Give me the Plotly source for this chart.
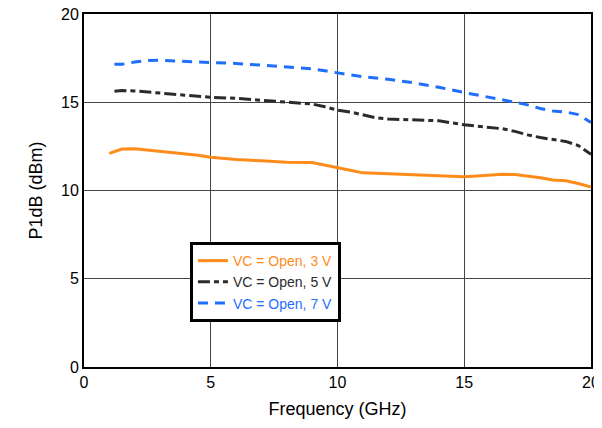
import plotly.graph_objects as go

x_3v = [1.0, 1.5, 2.0, 2.5, 3, 3.5, 4, 4.5, 5, 6, 7, 8, 9, 9.5, 10, 10.5, 11, 11.5, 12, 13, 14, 15, 15.5, 16, 16.5, 17, 17.5, 18, 18.5, 19, 19.5, 20]
y_3v = [12.1, 12.35, 12.37, 12.3, 12.25, 12.18, 12.1, 12.0, 11.88, 11.75, 11.68, 11.6, 11.58, 11.45, 11.32, 11.15, 11.0, 10.97, 10.95, 10.88, 10.85, 10.78, 10.82, 10.88, 10.92, 10.9, 10.82, 10.72, 10.6, 10.55, 10.4, 10.2]

x_5v = [1.2, 1.5, 2, 2.5, 3, 3.5, 4, 4.5, 5, 6, 7, 8, 9, 9.5, 10, 10.5, 11, 11.5, 12, 13, 14, 15, 15.5, 16, 16.5, 17, 17.5, 18, 18.5, 19, 19.5, 20]
y_5v = [15.62, 15.66, 15.64, 15.58, 15.55, 15.48, 15.42, 15.35, 15.28, 15.22, 15.12, 15.02, 14.9, 14.75, 14.55, 14.45, 14.3, 14.12, 14.05, 14.02, 13.95, 13.72, 13.65, 13.6, 13.5, 13.35, 13.15, 13.0, 12.9, 12.78, 12.55, 12.05]

x_7v = [1.2, 1.5, 2, 2.5, 3, 3.5, 4, 4.5, 5, 6, 7, 8, 9, 9.5, 10, 10.5, 11, 11.5, 12, 13, 14, 15, 15.5, 16, 16.5, 17, 17.5, 18, 18.5, 19, 19.5, 20]
y_7v = [17.15, 17.15, 17.28, 17.36, 17.38, 17.36, 17.32, 17.28, 17.25, 17.2, 17.1, 17.0, 16.9, 16.78, 16.65, 16.55, 16.45, 16.38, 16.3, 16.1, 15.85, 15.55, 15.42, 15.25, 15.12, 15.0, 14.85, 14.65, 14.5, 14.45, 14.3, 13.85]

names = ["VC = Open, 3 V", "VC = Open, 5 V", "VC = Open, 7 V"]
colors = ["#ff8c1a", "#2b2b2b", "#1f6fff"]

fig = go.Figure()
fig.add_trace(go.Scatter(x=x_3v, y=y_3v, mode="lines",
                         name=f"<span style='color:{colors[0]}'>{names[0]}</span>",
                         line=dict(color=colors[0], width=3)))
fig.add_trace(go.Scatter(x=x_5v, y=y_5v, mode="lines",
                         name=f"<span style='color:{colors[1]}'>{names[1]}</span>",
                         line=dict(color=colors[1], width=3, dash="12px,4px,5px,4px")))
fig.add_trace(go.Scatter(x=x_7v, y=y_7v, mode="lines",
                         name=f"<span style='color:{colors[2]}'>{names[2]}</span>",
                         line=dict(color=colors[2], width=3, dash="10px,7px")))

font_family = "Liberation Sans, Arial"
axis_common = dict(showgrid=True, gridcolor="#444444", gridwidth=1,
                   showline=True, linecolor="black", linewidth=2, mirror=True,
                   zeroline=False, ticks="", automargin=False,
                   ticklabeloverflow="allow",
                   tickfont=dict(family=font_family, size=16, color="black"))

fig.update_xaxes(range=[0, 20], dtick=5,
                 title=dict(text="Frequency (GHz)", font=dict(family=font_family, size=18, color="black"), standoff=12),
                 **axis_common)
fig.update_yaxes(range=[0, 20], dtick=5,
                 title=dict(text="P1dB (dBm)", font=dict(family=font_family, size=18, color="black"), standoff=14),
                 **axis_common)

fig.update_layout(
    width=594, height=412,
    margin=dict(l=76, r=11, t=6, b=53),
    plot_bgcolor="white", paper_bgcolor="white",
    font=dict(family=font_family, color="black"),
    legend=dict(x=0.209, y=0.354, xanchor="left", yanchor="top",
                bgcolor="white", bordercolor="black", borderwidth=3,
                font=dict(size=14), tracegroupgap=0, itemwidth=30,
                traceorder="normal"),
    showlegend=True,
)

fig.write_html("out.html")
